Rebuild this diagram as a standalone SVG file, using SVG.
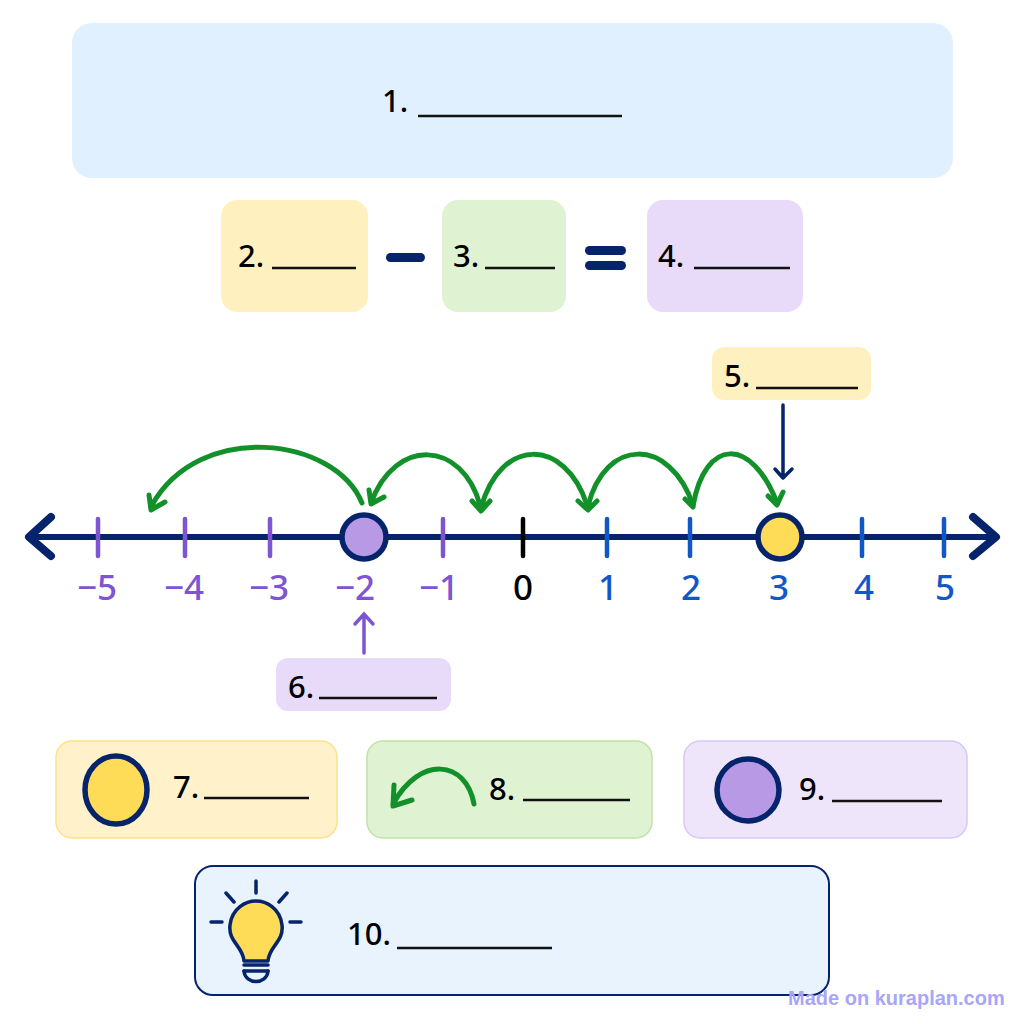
<svg xmlns="http://www.w3.org/2000/svg" width="1024" height="1024" viewBox="0 0 1024 1024">
<style>
text{font-family:"Noto Sans","Liberation Sans",sans-serif;font-weight:500}
.lab{font-size:31px;fill:#000}
.num{font-size:35px;text-anchor:middle}
.blank{stroke:#111;stroke-width:2.4;fill:none}
.axis{stroke:#06246b;fill:none;stroke-linecap:round;stroke-linejoin:round}
.arc{stroke:#12902a;stroke-width:5;fill:none;stroke-linecap:round;stroke-linejoin:round}
.tp{stroke:#7d55d3;stroke-width:4.5;stroke-linecap:round}
.tb{stroke:#1257c8;stroke-width:4.5;stroke-linecap:round}
.pur{fill:#7d55d3}.blu{fill:#1257c8}
.dot{stroke:#06246b;stroke-width:5.5}
.ray{stroke:#06246b;stroke-width:3.5;stroke-linecap:round;fill:none}
</style>
<rect width="1024" height="1024" fill="#fff"/>
<g id="node-1"><rect x="72" y="23" width="881" height="155" rx="20" fill="#e1f0fe"/><text class="lab" x="382" y="112">1.</text><path class="blank" d="M418 116H622"/></g>
<g id="node-2"><rect x="221" y="200" width="147" height="112" rx="16" fill="#fff1bf"/><text class="lab" x="238" y="267">2.</text><path class="blank" d="M272 268H356"/></g>
<g id="minus"><rect x="386" y="253" width="39" height="9" rx="4.5" fill="#06246b"/></g>
<g id="node-3"><rect x="442" y="200" width="124" height="112" rx="16" fill="#dff2d2"/><text class="lab" x="453" y="267">3.</text><path class="blank" d="M485 268H555"/></g>
<g id="equals"><rect x="585" y="246" width="41" height="9" rx="4.5" fill="#06246b"/><rect x="585" y="261" width="41" height="9" rx="4.5" fill="#06246b"/></g>
<g id="node-4"><rect x="647" y="200" width="156" height="112" rx="16" fill="#e7dbf9"/><text class="lab" x="658" y="267">4.</text><path class="blank" d="M694 268H790"/></g>
<g id="node-5"><rect x="712" y="347" width="159" height="53" rx="12" fill="#fff1bf"/><text class="lab" x="724" y="387">5.</text><path class="blank" d="M756 388H858"/></g>
<g id="node-6"><rect x="276" y="658" width="175" height="53" rx="12" fill="#e7dbf9"/><text class="lab" x="288" y="698">6.</text><path class="blank" d="M319 698H437"/></g>
<g id="connectors">
<path class="axis" stroke-width="6" d="M30 537H996"/>
<path class="axis" stroke-width="8" d="M51 517L29 537L51 556M973 517L996 537L973 556"/>
<path class="axis" stroke-width="3.5" d="M783 405V478M775 469L783 478L792 469"/>
<path class="tp" style="stroke-width:3.5" fill="none" d="M364 653V615M355 624L364 614L373 624"/>
<path class="arc" d="M362 503C335 437 200 420 152 505M165 502L151 510L149 495"/>
<path class="arc" d="M480 505C462 440 395 437 371 503M369 490L371 504L384 497"/>
<path class="arc" d="M587 505C565 437 500 437 481 508M472 501L481 511L490 501"/>
<path class="arc" d="M693 505C670 437 605 437 588 506M578 501L588 510L597 501"/>
<path class="arc" d="M777 503C752 437 705 437 693 506M685 499L693 507"/>
<path class="arc" d="M768 496L777 505L783 492"/>
</g>
<g id="ticks">
<path class="tp" d="M98 519V556M185 519V556M270 519V556M443 519V556"/>
<path stroke="#000" stroke-width="4.5" stroke-linecap="round" d="M523 519V556"/>
<path class="tb" d="M607 519V556M690 519V556M862 519V556M944 519V556"/>
</g>
<g id="point-minus-2"><circle cx="364" cy="537" r="22" fill="#b899e6" class="dot"/></g>
<g id="point-3"><circle cx="780" cy="537" r="22" fill="#ffdc57" class="dot"/></g>
<g id="labels">
<text class="num pur" x="97" y="600">−5</text><text class="num pur" x="184" y="600">−4</text><text class="num pur" x="269" y="600">−3</text><text class="num pur" x="355" y="600">−2</text><text class="num pur" x="439" y="600">−1</text>
<text class="num" x="523" y="600" fill="#000">0</text>
<text class="num blu" x="608" y="600">1</text><text class="num blu" x="691" y="600">2</text><text class="num blu" x="779" y="600">3</text><text class="num blu" x="864" y="600">4</text><text class="num blu" x="945" y="600">5</text>
</g>
<g id="node-7"><rect x="56" y="741" width="281" height="97" rx="16" fill="#fff1c9" stroke="#fde28a" stroke-width="1.5"/><ellipse cx="116" cy="790" rx="31" ry="34" fill="#ffdc57" stroke="#06246b" stroke-width="5.5"/><text class="lab" x="173" y="798">7.</text><path class="blank" d="M204 798H309"/></g>
<g id="node-8"><rect x="367" y="741" width="285" height="97" rx="16" fill="#dff2d2" stroke="#bfe3a8" stroke-width="1.5"/><path class="arc" d="M474 804C466 760 420 755 393 804M394 785L393 806L412 800"/><text class="lab" x="489" y="800">8.</text><path class="blank" d="M523 800H630"/></g>
<g id="node-9"><rect x="684" y="741" width="283" height="97" rx="16" fill="#efe5fb" stroke="#d8c7f5" stroke-width="1.5"/><circle cx="748" cy="790" r="31" fill="#b899e6" stroke="#06246b" stroke-width="5.5"/><text class="lab" x="799" y="800">9.</text><path class="blank" d="M832 801H942"/></g>
<g id="node-10"><rect x="195" y="866" width="634" height="129" rx="18" fill="#e8f3fe" stroke="#06246b" stroke-width="2"/>
<path d="M244 961C243 946 228 942 230 925C232 908 246 901 256 901C266 901 280 908 282 925C284 942 269 946 268 961Z" fill="#ffdc57" stroke="#06246b" stroke-width="3.5" stroke-linejoin="round"/>
<path d="M244 965H268M244 971H268" class="ray"/><path d="M244 971C245 985 267 985 268 971" fill="#e8f3fe" class="ray"/>
<path class="ray" d="M256 881V893M226 893L234 902M287 893L279 902M211 922H222M290 922H301"/>
<text class="lab" x="347" y="945">10.</text><path class="blank" d="M397 948H552"/></g>
<text x="788" y="1005" style="font-family:'Liberation Sans',sans-serif;font-weight:700" font-size="20" fill="#a9a5f7">Made on kuraplan.com</text>
</svg>
